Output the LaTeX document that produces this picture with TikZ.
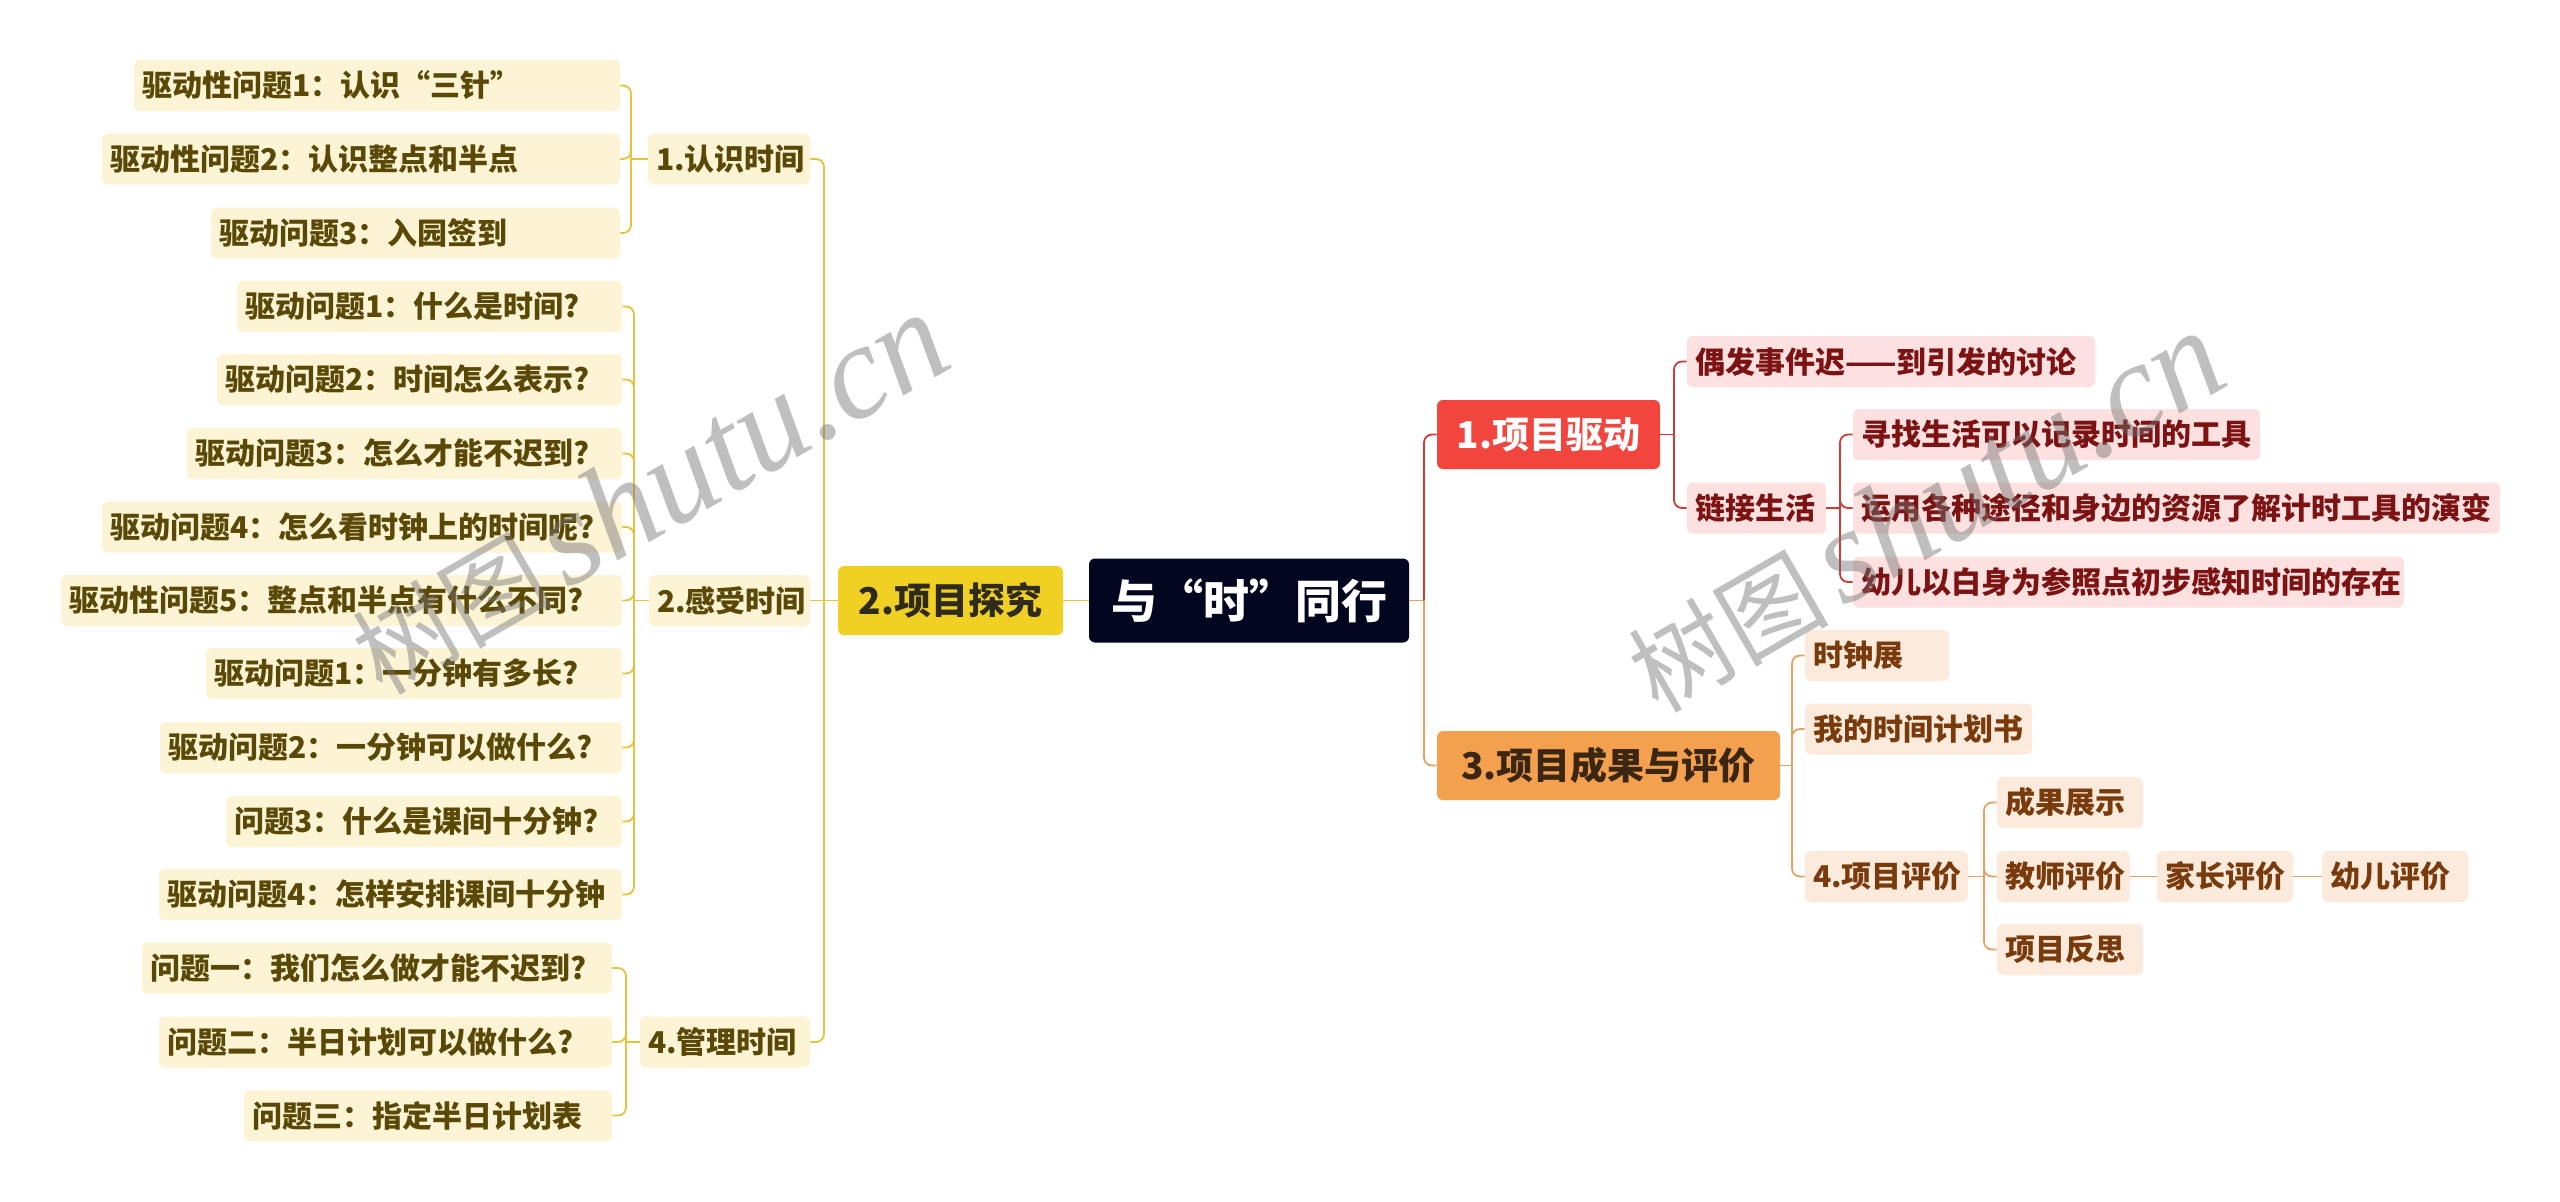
\documentclass[tikz,border=0pt]{standalone}
\usepackage{fontspec}
\setmainfont{Noto Sans CJK SC}
\newfontfamily\wmlat{Liberation Serif}
\setlength{\parindent}{0pt}
\definecolor{lineY}{HTML}{E4C43A}
\definecolor{fillY}{HTML}{FCF4D5}
\definecolor{txtY}{HTML}{5A4806}
\definecolor{topY}{HTML}{F1D024}
\definecolor{topYtxt}{HTML}{2E2A1C}
\definecolor{rootfill}{HTML}{02061F}
\definecolor{topR}{HTML}{F1453E}
\definecolor{lineR}{HTML}{CC3B34}
\definecolor{fillR}{HTML}{FCE1E0}
\definecolor{txtR}{HTML}{7C1212}
\definecolor{topO}{HTML}{F4A14F}
\definecolor{topOtxt}{HTML}{3A2612}
\definecolor{lineO}{HTML}{E5A262}
\definecolor{fillO}{HTML}{FCEBDC}
\definecolor{txtO}{HTML}{7A3B0C}
\tikzset{
  tw/.code={\pgfmathsetlengthmacro\mytw{(#1-16)*0.5pt}\edef\tmpa{\noexpand\tikzset{text width=\mytw}}\tmpa},
  box/.style={rectangle, rounded corners=3pt, inner xsep=4pt, inner ysep=0pt, minimum height=25.5pt, align=left, font=\bfseries\fontsize{15pt}{18pt}\selectfont},
  yb/.style={box, fill=fillY, text=txtY},
  rb/.style={box, fill=fillR, text=txtR},
  ob/.style={box, fill=fillO, text=txtO},
  topbox/.style={rectangle, rounded corners=3pt, inner sep=0pt, minimum height=34.5pt, font=\bfseries\fontsize{18.5pt}{22pt}\selectfont},
  rootbox/.style={rectangle, rounded corners=3pt, inner sep=0pt, fill=rootfill, text=white, minimum width=160pt, minimum height=42pt, font=\bfseries\fontsize{23pt}{27pt}\selectfont},
  yl/.style={draw=lineY, line width=0.9pt, rounded corners=4pt},
  rl/.style={draw=lineR, line width=0.9pt, rounded corners=4pt},
  ol/.style={draw=lineO, line width=0.9pt, rounded corners=4pt},
  wm/.style={text=black!55, text opacity=0.45, rotate=30, inner sep=0pt}
}
\begin{document}
\begin{tikzpicture}[x=0.5pt,y=-0.5pt]
\fill[white] (0,0) rectangle (2560,1201);
\useasboundingbox (0,0) rectangle (2560,1201);

% root and main branches
\node[rootbox] (c) at (1249,600.5) {与“时”同行};
\node[topbox, fill=topY, text=topYtxt, minimum width=112.5pt] (p2) at (950.5,600.5) {2.项目探究};
\node[topbox, fill=topR, text=white, minimum width=111.5pt] (r0) at (1548.5,434.5) {1.项目驱动};
\node[topbox, fill=topO, text=topOtxt, minimum width=171.5pt] (r3) at (1608.5,765.5) {3.项目成果与评价};

% left sub-branches
\node[yb, tw=162] (s1) at (729,159) {1.认识时间};
\node[yb, tw=161] (s2) at (729.5,600.5) {2.感受时间};
\node[yb, tw=170] (s3) at (725,1042) {4.管理时间};

% left leaves
\node[yb, tw=486] (l1) at (377,85.5) {驱动性问题1：认识“三针”};
\node[yb, tw=518] (l2) at (361,159) {驱动性问题2：认识整点和半点};
\node[yb, tw=409] (l3) at (415.5,233) {驱动问题3：入园签到};
\node[yb, tw=385] (l4) at (429.5,306.5) {驱动问题1：什么是时间?};
\node[yb, tw=405] (l5) at (419.5,379.5) {驱动问题2：时间怎么表示?};
\node[yb, tw=435] (l6) at (404.5,453.5) {驱动问题3：怎么才能不迟到?};
\node[yb, tw=520] (l7) at (362,527) {驱动问题4：怎么看时钟上的时间呢?};
\node[yb, tw=561] (l8) at (341.5,600.5) {驱动性问题5：整点和半点有什么不同?};
\node[yb, tw=416] (l9) at (414,673.5) {驱动问题1：一分钟有多长?};
\node[yb, tw=462] (l10) at (391,747.5) {驱动问题2：一分钟可以做什么?};
\node[yb, tw=396] (l11) at (424,821.5) {问题3：什么是课间十分钟?};
\node[yb, tw=463] (l12) at (390.5,894.5) {驱动问题4：怎样安排课间十分钟};
\node[yb, tw=470] (l13) at (377,968) {问题一：我们怎么做才能不迟到?};
\node[yb, tw=453] (l14) at (385.5,1042) {问题二：半日计划可以做什么?};
\node[yb, tw=368] (l15) at (428,1115.5) {问题三：指定半日计划表};

% right: project drive
\node[rb, tw=408] (r1a) at (1891,361.5) {偶发事件迟——到引发的讨论};
\node[rb, tw=139] (r1b) at (1756.5,508) {链接生活};
\node[rb, tw=407] (r1b1) at (2056.5,434.5) {寻找生活可以记录时间的工具};
\node[rb, tw=647] (r1b2) at (2176.5,508) {运用各种途径和身边的资源了解计时工具的演变};
\node[rb, tw=551] (r1b3) at (2128.5,582) {幼儿以白身为参照点初步感知时间的存在};

% right: results and evaluation
\node[ob, tw=144] (r3a) at (1877,655.5) {时钟展};
\node[ob, tw=227] (r3b) at (1918.5,729) {我的时间计划书};
\node[ob, tw=163] (r3c) at (1886.5,876.5) {4.项目评价};
\node[ob, tw=146] (r3c1) at (2070,802.5) {成果展示};
\node[ob, tw=133] (r3c2) at (2063.5,876.5) {教师评价};
\node[ob, tw=136] (r3c3) at (2225,876.5) {家长评价};
\node[ob, tw=146] (r3c4) at (2395,876.5) {幼儿评价};
\node[ob, tw=146] (r3c5) at (2070,949.5) {项目反思};

% junction coordinates
\coordinate (bL) at (824,600.5);
\coordinate (g1) at (631,159);
\coordinate (g2) at (634,600.5);
\coordinate (g3) at (626,1042);
\coordinate (bR) at (1424,600.5);
\coordinate (b0) at (1674,434.5);
\coordinate (b1) at (1840,508);
\coordinate (b3) at (1792,765.5);
\coordinate (b4) at (1984,876.5);

% left connectors
\draw[yl] (c.west) -- (p2.east);
\draw[yl] (p2.west) -- (bL);
\draw[yl] (bL) |- (s1.east);
\draw[yl] (bL) -- (s2.east);
\draw[yl] (bL) |- (s3.east);
\draw[yl] (s1.west) -- (g1);
\foreach \n in {l1,l2,l3} {\draw[yl] (g1) |- (\n.east);}
\draw[yl] (s2.west) -- (g2);
\foreach \n in {l4,l5,l6,l7,l8,l9,l10,l11,l12} {\draw[yl] (g2) |- (\n.east);}
\draw[yl] (s3.west) -- (g3);
\foreach \n in {l13,l14,l15} {\draw[yl] (g3) |- (\n.east);}

% right connectors
\draw[ol] (c.east) -- (bR);
\draw[rl] (bR) |- (r0.west);
\draw[ol] (bR) |- (r3.west);
\draw[rl] (r0.east) -- (b0);
\draw[rl] (b0) |- (r1a.west);
\draw[rl] (b0) |- (r1b.west);
\draw[rl] (r1b.east) -- (b1);
\foreach \n in {r1b1,r1b2,r1b3} {\draw[rl] (b1) |- (\n.west);}
\draw[ol] (r3.east) -- (b3);
\foreach \n in {r3a,r3b,r3c} {\draw[ol] (b3) |- (\n.west);}
\draw[ol] (r3c.east) -- (b4);
\foreach \n in {r3c1,r3c2,r3c5} {\draw[ol] (b4) |- (\n.west);}
\draw[ol] (r3c2.east) -- (r3c3.west);
\draw[ol] (r3c3.east) -- (r3c4.west);

% watermarks
\node[wm] (wm1) at (649,494) {\fontsize{50pt}{58pt}\selectfont 树图\hspace{7pt}{\wmlat\itshape\fontsize{67pt}{72pt}\selectfont shutu.cn}};
\node[wm] (wm2) at (1925,512) {\fontsize{50pt}{58pt}\selectfont 树图\hspace{7pt}{\wmlat\itshape\fontsize{67pt}{72pt}\selectfont shutu.cn}};
\end{tikzpicture}
\end{document}
